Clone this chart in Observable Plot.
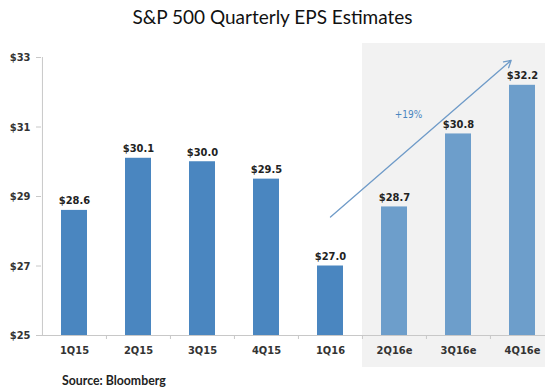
<!DOCTYPE html>
<html>
<head>
<meta charset="utf-8">
<script src="https://cdn.jsdelivr.net/npm/d3@7"></script>
<script src="https://cdn.jsdelivr.net/npm/@observablehq/plot@0.6"></script>
<style>
  html, body { margin: 0; padding: 0; background: #fff; overflow: hidden; width: 545px; height: 390px; }
  #title { height: 36px; line-height: 33px; text-align: center; font-family: Lato, "Open Sans", sans-serif; font-size: 19px; color: #111; }
  #caption { height: 17px; line-height: 15px; padding-left: 62px; font-family: Lato, "Open Sans", sans-serif; font-size: 12.3px; font-weight: bold; color: #222; }
  #chart svg { display: block; }
</style>
</head>
<body>
<div id="title">S&amp;P 500 Quarterly EPS Estimates</div>
<div id="chart"></div>
<div id="caption">Source: Bloomberg</div>
<script>
const quarters = ["1Q15","2Q15","3Q15","4Q15","1Q16","2Q16e","3Q16e","4Q16e"];
const eps = [28.6, 30.1, 30.0, 29.5, 27.0, 28.7, 30.8, 32.2];
const isEstimate = [false, false, false, false, false, true, true, true];
const yTicks = [25, 27, 29, 31, 33];
const growthArrow = [{from: "1Q16", fromValue: 28.41, to: "4Q16e", toValue: 33.2}];
const growthLabel = [{q: "2Q16e", value: 31.36, text: "+19%"}];

const rows = quarters.map((q, i) => ({q, v: eps[i], est: isEstimate[i]}));
const actual = rows.filter(d => !d.est);
const estimates = rows.filter(d => d.est);

const W = 545, H = 337;
const xRange = [41, 554];
const step = (xRange[1] - xRange[0]) / quarters.length;
const font = '"Liberation Sans Narrow", "DejaVu Sans Condensed", "Roboto Condensed", sans-serif';

const plot = Plot.plot({
  width: W,
  height: H,
  marginLeft: 41,
  marginRight: 0,
  marginTop: 21,
  marginBottom: 38,
  style: {fontFamily: font, fontSize: "11px", fontWeight: "bold", color: "#333", background: "transparent"},
  x: {type: "band", domain: quarters, range: xRange, padding: 0},
  y: {domain: [25, 33]},
  marks: [
    Plot.cell(estimates, {x: "q", fill: "#f2f2f2", insetTop: -14, insetBottom: -32, shapeRendering: "crispEdges"}),
    Plot.ruleY([25], {stroke: "#c8c8c8"}),
    Plot.ruleX([quarters[0]], {dx: -step / 2, stroke: "#c8c8c8"}),
    Plot.ruleX(quarters.slice(1), {x: d => d, y1: 25, y2: 25, insetBottom: -4, dx: -step / 2, stroke: "#c8c8c8"}),
    Plot.barY(actual, {x: "q", y1: 25, y2: "v", fill: "#4a86c0", insetLeft: 19, insetRight: 19}),
    Plot.barY(estimates, {x: "q", y1: 25, y2: "v", fill: "#6d9ecb", insetLeft: 19, insetRight: 19}),
    Plot.text(rows, {x: "q", y: "v", text: d => "$" + d.v.toFixed(1), dy: -6, lineAnchor: "bottom", fill: "#222", fontSize: 11}),
    Plot.arrow(growthArrow, {x1: "from", y1: "fromValue", x2: "to", y2: "toValue", stroke: "#6f9bc8", strokeWidth: 1.3, insetEnd: 15, headLength: 9}),
    Plot.text(growthLabel, {x: "q", y: "value", text: "text", dx: 14, fill: "#4a86c0", fontSize: 10, fontWeight: "normal"}),
    Plot.axisY({ticks: yTicks, tickFormat: d => "$" + d, tickSize: 5, tickPadding: 6, stroke: "#c8c8c8", fill: "#333", fontSize: 11}),
    Plot.axisX({tickSize: 0, tickPadding: 11, fill: "#333", fontSize: 11, label: null})
  ]
});
document.getElementById("chart").appendChild(plot);
</script>
</body>
</html>
